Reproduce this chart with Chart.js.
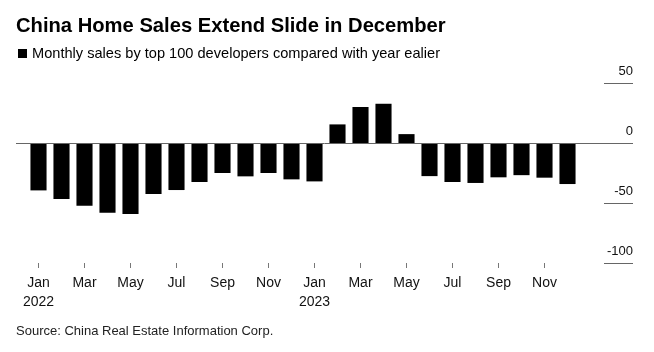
<!DOCTYPE html>
<html lang="en">
<head>
    <meta charset="UTF-8">
    <title>China Home Sales Extend Slide in December</title>
    <script src="https://cdn.jsdelivr.net/npm/chart.js"></script>
    <style>
        body {
            margin: 0;
            background: #fff;
            font-family: "Liberation Sans", Arial, sans-serif;
            color: #000;
        }
        #wrap {
            position: relative;
            width: 654px;
            height: 352px;
            overflow: hidden;
        }
        #salesChart {
            position: absolute;
            left: 0;
            top: 0;
        }
        .txt {
            position: absolute;
            white-space: nowrap;
        }
        #title {
            left: 16px;
            top: 15px;
            font-size: 20.2px;
            line-height: 20px;
            font-weight: bold;
        }
        #subtitle {
            left: 32px;
            top: 46px;
            font-size: 14.6px;
            line-height: 14px;
        }
        #legendBox {
            position: absolute;
            left: 18px;
            top: 49px;
            width: 9px;
            height: 9px;
            background: #000;
        }
        #source {
            left: 16px;
            top: 324px;
            font-size: 13px;
            line-height: 14px;
            color: #222;
        }
    </style>
</head>
<body>
    <div id="wrap">
        <canvas id="salesChart" width="654" height="352"></canvas>
        <div class="txt" id="title">China Home Sales Extend Slide in December</div>
        <div id="legendBox"></div>
        <div class="txt" id="subtitle">Monthly sales by top 100 developers compared with year ealier</div>
        <div class="txt" id="source">Source: China Real Estate Information Corp.</div>
    </div>

    <script>
        // months shown on the x axis
        const months = [
            'Jan 2022', 'Feb 2022', 'Mar 2022', 'Apr 2022', 'May 2022', 'Jun 2022',
            'Jul 2022', 'Aug 2022', 'Sep 2022', 'Oct 2022', 'Nov 2022', 'Dec 2022',
            'Jan 2023', 'Feb 2023', 'Mar 2023', 'Apr 2023', 'May 2023', 'Jun 2023',
            'Jul 2023', 'Aug 2023', 'Sep 2023', 'Oct 2023', 'Nov 2023', 'Dec 2023'
        ];

        // YoY change in monthly sales (%)
        const salesChange = [
            -39.5, -46.7, -52.2, -58.1, -59.2, -42.5,
            -39.2, -32.5, -25.0, -27.8, -25.0, -30.3,
            -32.0, 15.5, 30.0, 32.7, 7.4, -27.6,
            -32.5, -33.3, -28.6, -26.8, -28.9, -34.2
        ];

        // value axis labels (drawn on the right)
        const yTicks = [50, 0, -50, -100];

        // draws the right hand labels with their short underlines
        const rightAxis = {
            id: 'rightAxis',
            afterDraw(chart) {
                const ctx = chart.ctx;
                const y = chart.scales.y;
                ctx.save();
                ctx.font = '13px "Liberation Sans", Arial, sans-serif';
                ctx.textAlign = 'right';
                ctx.textBaseline = 'alphabetic';
                yTicks.forEach(v => {
                    const py = Math.round(y.getPixelForValue(v)) + 0.5;
                    ctx.strokeStyle = '#666';
                    ctx.lineWidth = 1;
                    ctx.beginPath();
                    ctx.moveTo(v === 0 ? 16 : 604, py);
                    ctx.lineTo(633, py);
                    ctx.stroke();
                    ctx.fillStyle = '#111';
                    ctx.fillText(String(v), 633, py - 9);
                });
                ctx.restore();
            }
        };

        const ctx = document.getElementById('salesChart').getContext('2d');
        new Chart(ctx, {
            type: 'bar',
            data: {
                labels: months,
                datasets: [{
                    label: 'Monthly sales by top 100 developers compared with year ealier',
                    data: salesChange,
                    backgroundColor: '#000',
                    borderWidth: 0,
                    barPercentage: 0.7,
                    categoryPercentage: 1
                }]
            },
            options: {
                responsive: false,
                animation: false,
                layout: {
                    padding: { left: 27, right: 75, top: 83, bottom: 29 }
                },
                plugins: {
                    legend: { display: false },
                    tooltip: { enabled: false },
                    title: { display: false }
                },
                scales: {
                    x: {
                        afterFit(scale) { scale.height = 60; },
                        border: { display: false },
                        grid: {
                            offset: false,
                            drawOnChartArea: false,
                            drawTicks: true,
                            tickLength: 5,
                            color: c => (c.index % 2 === 0 ? '#777' : 'rgba(0,0,0,0)')
                        },
                        ticks: {
                            autoSkip: false,
                            maxRotation: 0,
                            padding: 6,
                            color: '#111',
                            font: { family: '"Liberation Sans", Arial, sans-serif', size: 14, lineHeight: 1.35 },
                            callback(value, index) {
                                const [m, yr] = this.getLabelForValue(value).split(' ');
                                if (index % 2) return '';
                                return m === 'Jan' ? [m, yr] : m;
                            }
                        }
                    },
                    y: {
                        display: false,
                        min: -100,
                        max: 50
                    }
                }
            },
            plugins: [rightAxis]
        });
    </script>
</body>
</html>
